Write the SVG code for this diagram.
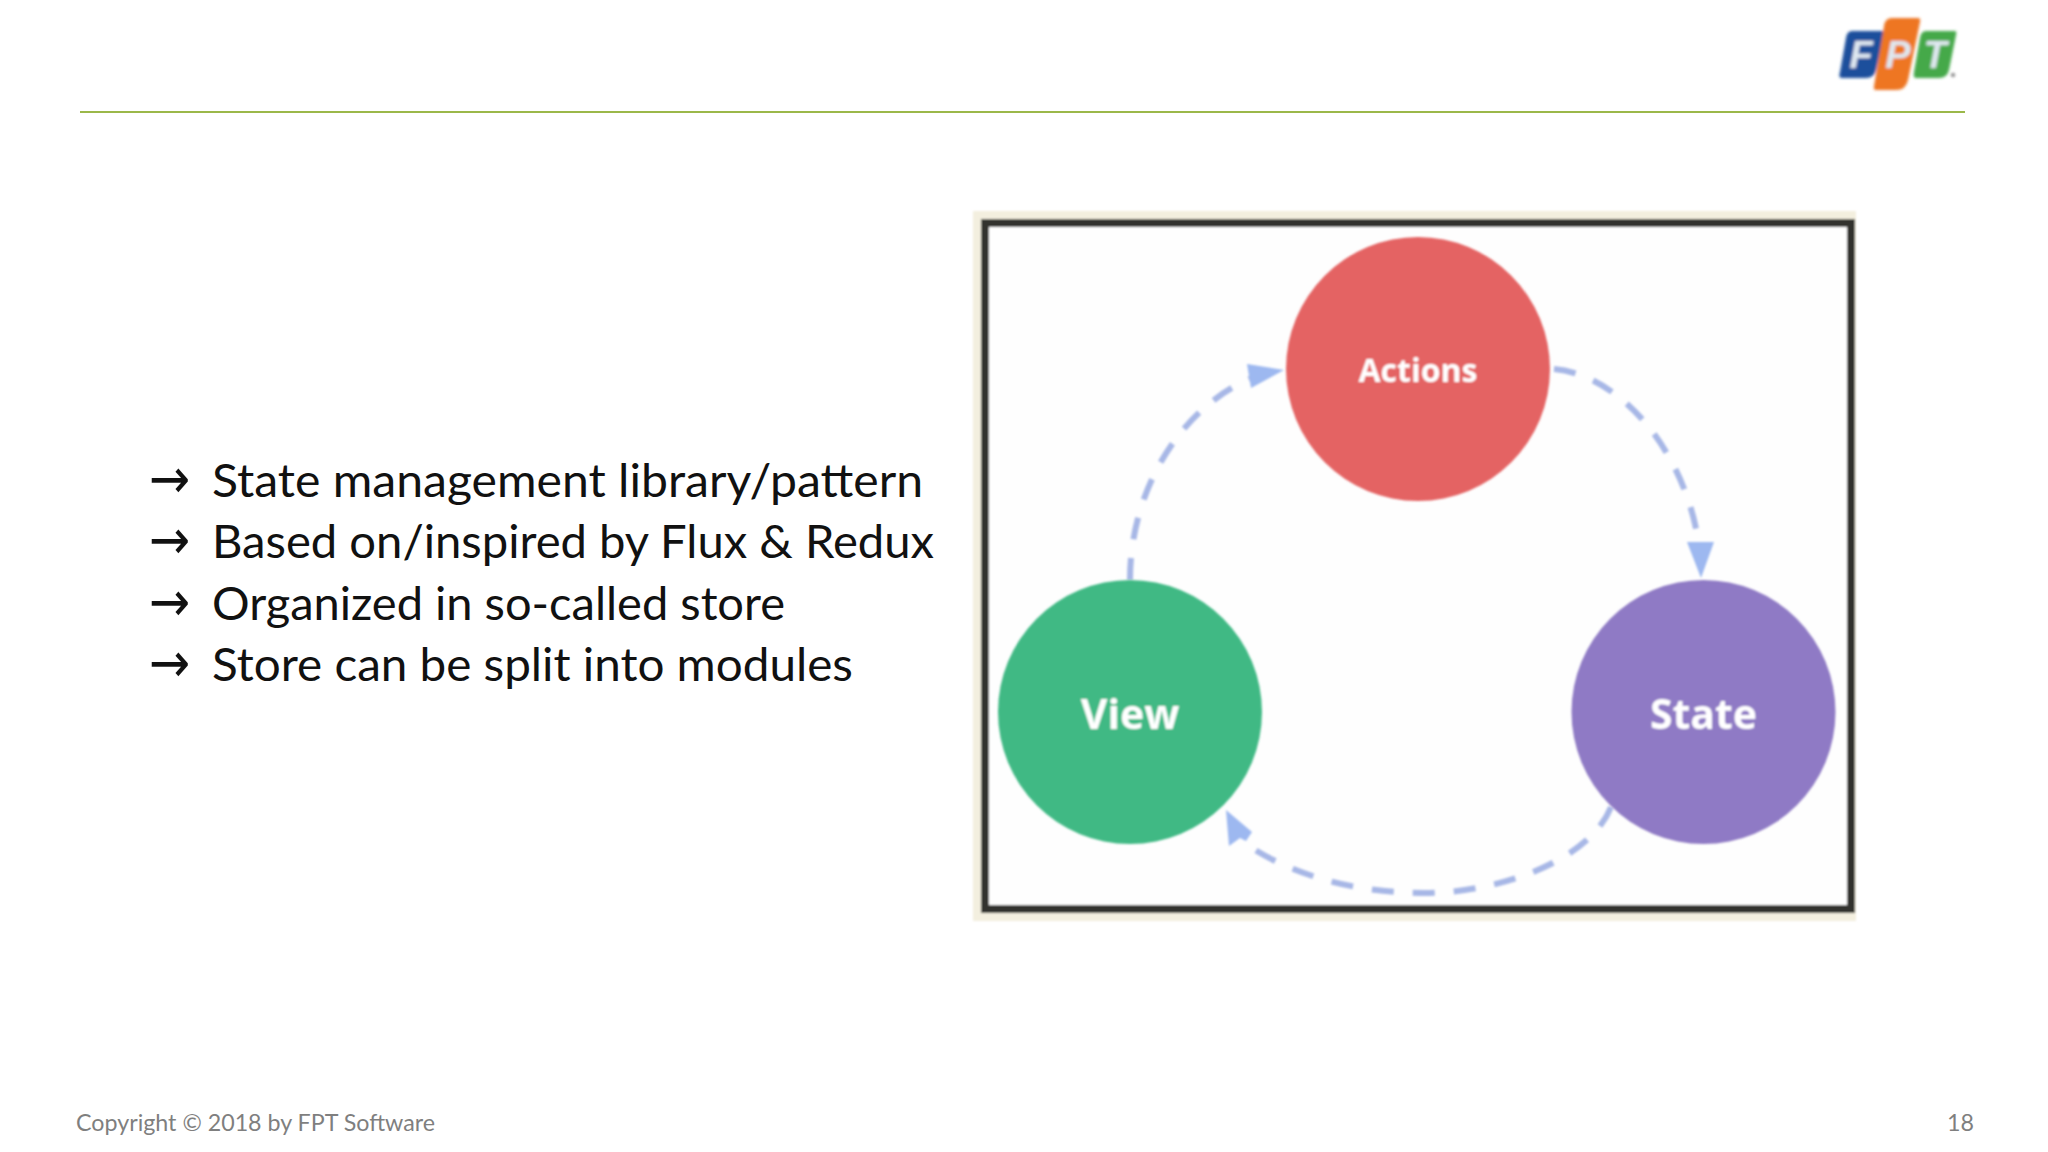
<svg xmlns="http://www.w3.org/2000/svg" width="2048" height="1152" viewBox="0 0 2048 1152">
<style>
.b{font-family:"Lato","Carlito","Noto Sans",sans-serif;font-size:46px;fill:#111}
.ar{font-family:"DejaVu Sans",sans-serif;font-size:56px;fill:#111}
.f{font-family:"Lato","Noto Sans",sans-serif;font-size:24px;fill:#7f7f7f}
.n{font-family:"Open Sans","Noto Sans",sans-serif;font-weight:700;fill:#fff;text-anchor:middle}
.l{font-family:"Liberation Sans",Arial,sans-serif;font-weight:700;font-style:italic;font-size:38px;fill:#dfe8f0;text-anchor:middle}
.c{fill:none;stroke:#a7b7e6;stroke-width:6;stroke-dasharray:22 19}
.h{fill:#9db8f0}
</style>
<defs><filter id="soft" x="-5%" y="-5%" width="110%" height="110%"><feGaussianBlur stdDeviation="0.9"/></filter><filter id="softer" x="-5%" y="-5%" width="110%" height="110%"><feGaussianBlur stdDeviation="1.4"/></filter></defs>
<rect width="2048" height="1152" fill="#fff"/>
<rect x="80" y="111" width="1885" height="2" fill="#9bb84a"/>
<g id="logo" filter="url(#softer)">
<path d="M1852 31H1882Q1885 31 1884 35L1876 70Q1874 78 1866 78H1842Q1838 78 1840 72L1846 38Q1847 31 1852 31Z" fill="#1d4f9c"/>
<path d="M1892 18H1918Q1921 18 1920 22L1908 80Q1906 90 1896 90H1876Q1873 90 1874 86L1884 26Q1885 18 1892 18Z" fill="#ee7622"/>
<path d="M1926 31H1955Q1957 31 1956 35L1949 70Q1947 78 1939 78H1916Q1913 78 1914 72L1920 38Q1921 31 1926 31Z" fill="#44a948"/>
<text class="l" x="1861" y="68">F</text>
<text class="l" x="1898" y="68">P</text>
<text class="l" x="1935" y="68">T</text>
<circle cx="1953" cy="75" r="2" fill="#777"/>
</g>
<g id="bullets">
<text class="ar" transform="translate(149 498) scale(.88 1)">→</text>
<text class="b" x="212" y="497" textLength="711" lengthAdjust="spacingAndGlyphs">State management library/pattern</text>
<text class="ar" transform="translate(149 559) scale(.88 1)">→</text>
<text class="b" x="212" y="558" textLength="722" lengthAdjust="spacingAndGlyphs">Based on/inspired by Flux &amp; Redux</text>
<text class="ar" transform="translate(149 621) scale(.88 1)">→</text>
<text class="b" x="212" y="620" textLength="573" lengthAdjust="spacingAndGlyphs">Organized in so-called store</text>
<text class="ar" transform="translate(149 682) scale(.88 1)">→</text>
<text class="b" x="212" y="681" textLength="641" lengthAdjust="spacingAndGlyphs">Store can be split into modules</text>
</g>
<g id="frame" filter="url(#soft)">
<rect x="973" y="211" width="883" height="710" fill="#f3efdf"/>
<rect x="985" y="223" width="866" height="686" fill="#fefefe" stroke="#33312d" stroke-width="8"/>
</g>
<g id="connectors" filter="url(#soft)">
<path class="c" d="M1130 580C1130 485 1185 405 1252 378"/>
<path class="h" d="M1284 370L1247 364L1251 388Z"/>
<path class="c" d="M1554 369C1620 375 1685 450 1699 545"/>
<path class="h" d="M1701 578L1687 542L1714 542Z"/>
<path class="c" d="M1611 807C1590 860 1500 893 1424 893C1350 893 1285 872 1243 842"/>
<path class="h" d="M1226 810L1229 846L1240 838L1246 841L1252 832Z"/>
</g>
<g id="actions" filter="url(#soft)"><circle cx="1418" cy="369" r="132" fill="#e46363"/><text class="n" x="1418" y="382" font-size="32">Actions</text></g>
<g id="view" filter="url(#soft)"><circle cx="1130" cy="712" r="132" fill="#3fb984"/><text class="n" x="1130" y="729" font-size="41">View</text></g>
<g id="state" filter="url(#soft)"><circle cx="1703.5" cy="712" r="132" fill="#8f7ac5"/><text class="n" x="1703.5" y="729" font-size="41">State</text></g>
<g id="footer">
<text class="f" x="76" y="1131" textLength="359" lengthAdjust="spacingAndGlyphs">Copyright © 2018 by FPT Software</text>
<text class="f" x="1947" y="1131" textLength="27" lengthAdjust="spacingAndGlyphs">18</text>
</g>
</svg>
